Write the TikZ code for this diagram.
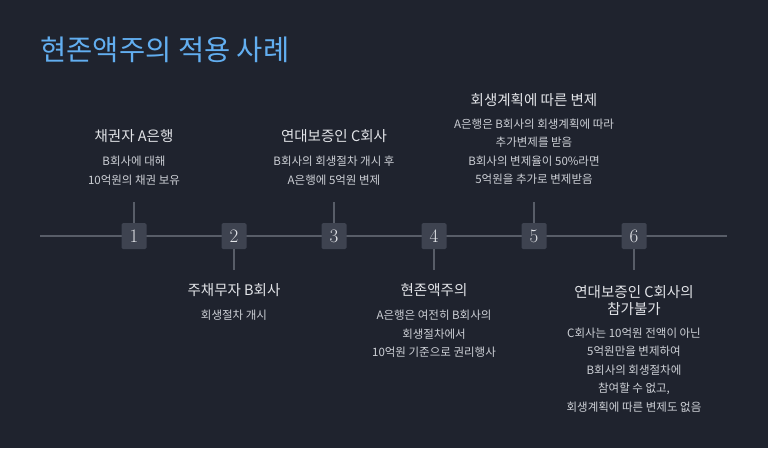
\documentclass[tikz,border=0pt]{standalone}
\usepackage{fontspec}
\setmainfont{Noto Sans CJK KR}
\newfontfamily\numfont{Latin Modern Roman}
\usepackage{tikz}
\usetikzlibrary{calc}
\definecolor{bgdark}{RGB}{31,35,46}
\definecolor{titleblue}{RGB}{98,174,240}
\definecolor{linegray}{RGB}{88,93,104}
\definecolor{boxgray}{RGB}{62,67,80}
\definecolor{headgray}{RGB}{226,228,232}
\definecolor{textgray}{RGB}{205,208,214}
\tikzset{
  numbox/.style={rectangle,rounded corners=1.5pt,fill=boxgray,minimum width=25pt,minimum height=26pt,inner sep=0pt,text=headgray,font=\numfont\fontsize{19}{19}\selectfont},
  headtext/.style={align=center,text=headgray,font=\fontsize{14.5}{17}\selectfont},
  desctext/.style={align=center,text=textgray,font=\fontsize{11.5}{18.5}\selectfont},
  stub/.style={draw=linegray,line width=1.3pt}
}
\begin{document}
\begin{tikzpicture}[x=1pt,y=-1pt]
              \fill[bgdark](0,0)rectangle(768,448);
              \useasboundingbox (0,0) rectangle (768,448);
              \node[anchor=west,text=titleblue,font=\fontsize{28.5}{32}\selectfont](title)at(37,50){현존액주의 적용 사례};
              \coordinate (start) at (40,236);
              \coordinate (end) at (727,236);
              \draw[stub](start)--(end);
              \foreach \i/\x in {1/134, 2/234, 3/334, 4/434, 5/534, 6/634} \node[numbox](n\i)at(\x,236){\i};
              \foreach \i in {1,3,5} \draw[stub](n\i.north)--++(0,-21)coordinate(t\i);
              \foreach \i in {2,4,6} \draw[stub](n\i.south)--++(0,21)coordinate(t\i);
              % above the line
              \node[headtext](h1)at(134,136){채권자 A은행};
              \node[desctext](d1)at(134,170.5){B회사에 대해\\10억원의 채권 보유};
              \node[headtext](h3)at(334,136){연대보증인 C회사};
              \node[desctext](d3)at(334,170.5){B회사의 회생절차 개시 후\\A은행에 5억원 변제};
              \node[headtext](h5)at(534,100){회생계획에 따른 변제};
              \node[desctext](d5)at(534,151.5){A은행은 B회사의 회생계획에 따라\\추가변제를 받음\\B회사의 변제율이 50\%라면\\5억원을 추가로 변제받음};
              % below the line
              \node[headtext](h2)at(234,290){주채무자 B회사};
              \node[desctext](d2)at(234,315){회생절차 개시};
              \node[headtext](h4)at(434,290){현존액주의};
              \node[desctext](d4)at(434,334){A은행은 여전히 B회사의\\회생절차에서\\10억원 기준으로 권리행사};
              \node[headtext](h6)at(634,300.5){연대보증인 C회사의\\참가불가};
              \node[desctext](d6)at(634,370){C회사는 10억원 전액이 아닌\\5억원만을 변제하여\\B회사의 회생절차에\\참여할 수 없고,\\회생계획에 따른 변제도 없음};
            \end{tikzpicture}
\end{document}
